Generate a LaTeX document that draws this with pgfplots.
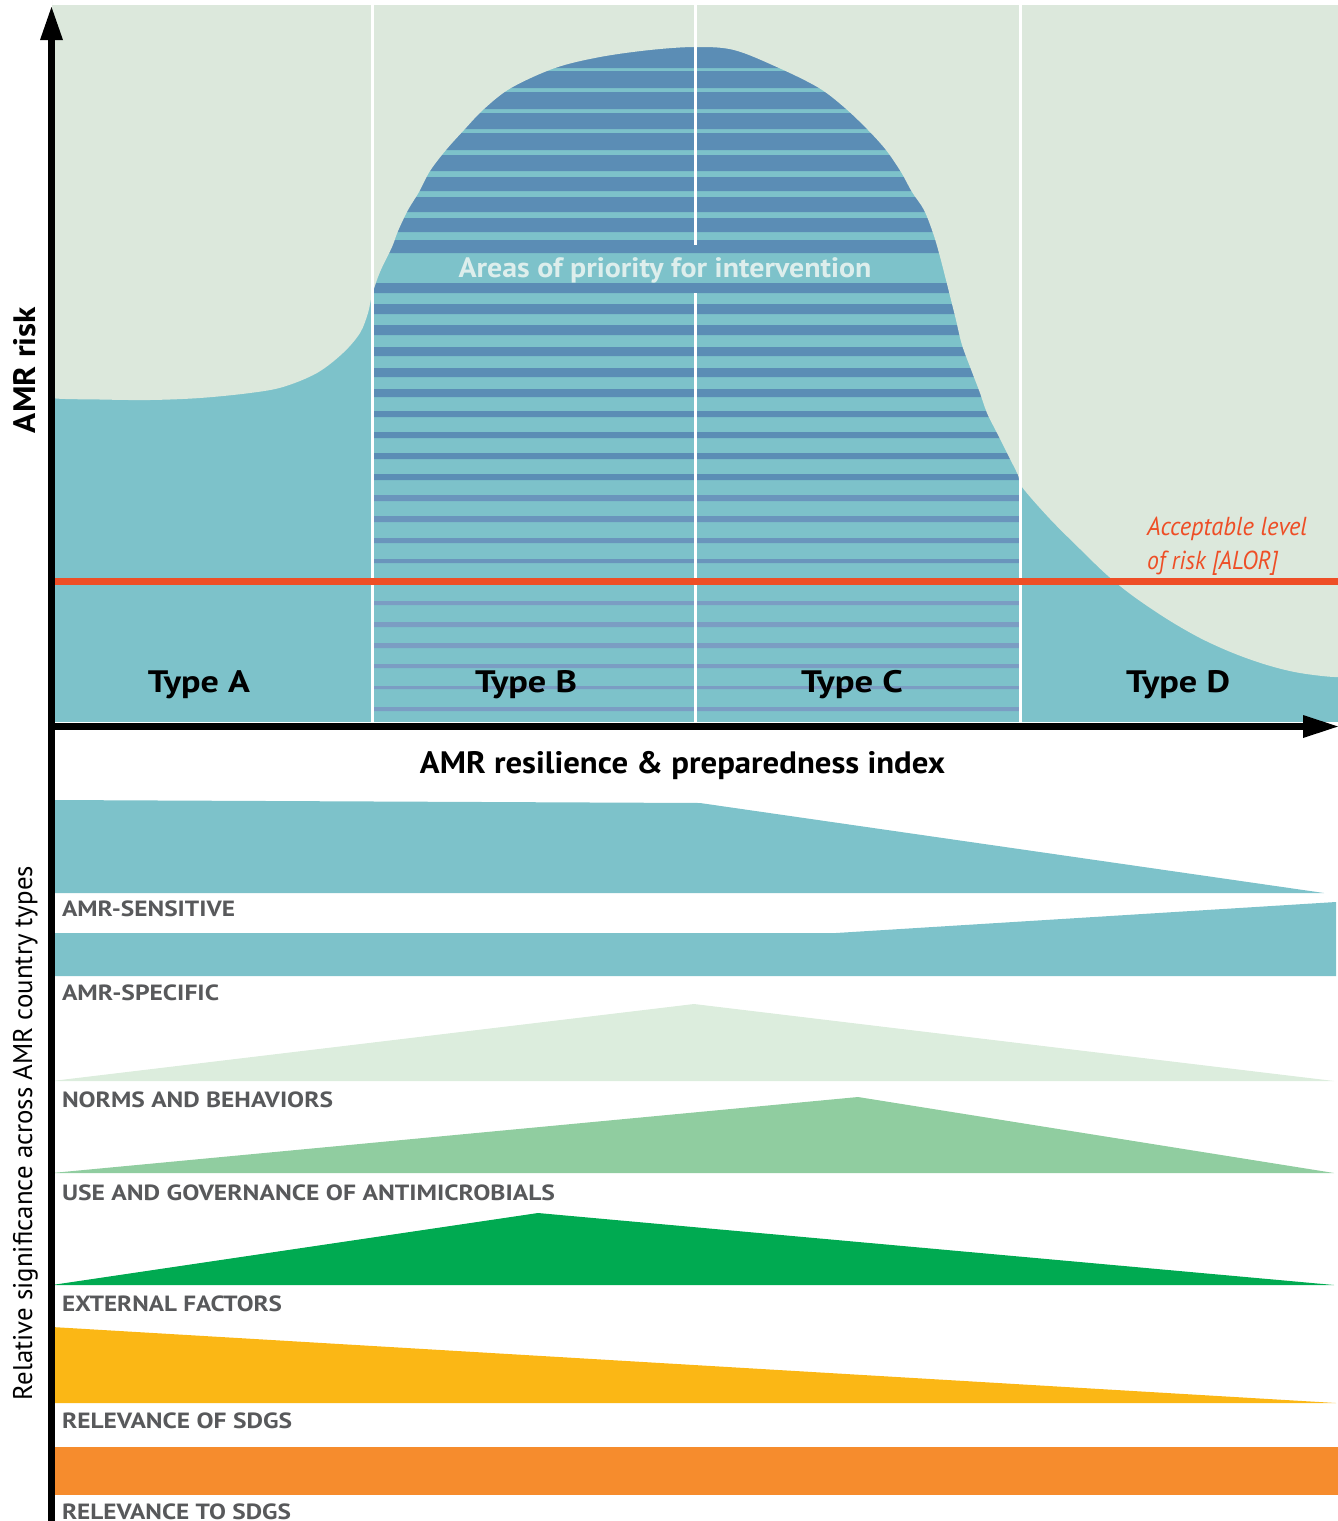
\documentclass[border=0pt]{standalone}
\usepackage{pgfplots}
\pgfplotsset{compat=1.18}
\usepackage{fontspec}
\setmainfont{PT Sans}
\usepackage{graphicx}

\definecolor{bgl}{HTML}{DCE8DC}
\definecolor{teal1}{HTML}{7DC2CA}
\definecolor{stripeA}{HTML}{5B8DB5}
\definecolor{stripeB}{HTML}{6A95BC}
\definecolor{stripeC}{HTML}{7B9DC3}
\definecolor{alor}{HTML}{EE4E26}
\definecolor{lgreen}{HTML}{DCEDDD}
\definecolor{mgreen}{HTML}{90CDA0}
\definecolor{dgreen}{HTML}{00AA51}
\definecolor{yel}{HTML}{FBB715}
\definecolor{ora}{HTML}{F68C2D}
\definecolor{lbl}{HTML}{58595B}
\definecolor{pale}{HTML}{DDEEEC}

% squeeze text to a given width, keep its height
\newcommand{\fitw}[2]{\resizebox{#1}{\height}{#2}}
\tikzset{lab/.style={inner sep=0pt, outer sep=0pt}}

\begin{document}
\begin{tikzpicture}
\begin{axis}[name=main, at={(0,0)}, anchor=south west,
  scale only axis, width=669pt, height=760.5pt,
  xmin=0, xmax=1338, ymin=0, ymax=1521, y dir=reverse,
  hide axis, clip=false, no markers]

% --- top panel: teal base
\addplot[fill=teal1, draw=none] coordinates {(52,5)(1338,5)(1338,722)(52,722)};

% stripes in type B / C
\addplot[fill=stripeA, draw=none, unbounded coords=jump] coordinates {
 (372,40)(1020,40)(1020,68)(372,68) (372,nan)
 (372,71)(1020,71)(1020,88)(372,88) (372,nan)
 (372,92)(1020,92)(1020,109)(372,109) (372,nan)
 (372,113)(1020,113)(1020,129)(372,129) (372,nan)
 (372,133)(1020,133)(1020,150)(372,150) (372,nan)
 (372,155)(1020,155)(1020,171)(372,171) (372,nan)
 (372,177)(1020,177)(1020,191)(372,191) (372,nan)
 (372,197)(1020,197)(1020,212)(372,212) (372,nan)
 (372,218)(1020,218)(1020,232)(372,232) (372,nan)
 (372,240)(1020,240)(1020,253)(372,253) (372,nan)
 (372,283)(1020,283)(1020,293)(372,293) (372,nan)
 (372,304)(1020,304)(1020,314)(372,314) (372,nan)
 (372,325)(1020,325)(1020,335)(372,335) (372,nan)
 (372,347)(1020,347)(1020,356)(372,356) (372,nan)
 (372,368)(1020,368)(1020,377)(372,377) (372,nan)
 (372,389)(1020,389)(1020,397)(372,397) (372,nan)
 (372,411)(1020,411)(1020,417)(372,417) (372,nan)
 (372,432)(1020,432)(1020,438)(372,438) (372,nan)
 (372,453)(1020,453)(1020,459)(372,459) (372,nan)
 (372,474)(1020,474)(1020,480)(372,480)
};
\addplot[fill=stripeB, draw=none, unbounded coords=jump] coordinates {
 (372,495)(1020,495)(1020,501)(372,501) (372,nan)
 (372,516)(1020,516)(1020,522)(372,522) (372,nan)
 (372,538)(1020,538)(1020,543)(372,543) (372,nan)
 (372,559)(1020,559)(1020,563)(372,563)
};
\addplot[fill=stripeC, draw=none, unbounded coords=jump] coordinates {
 (372,580)(1020,580)(1020,584)(372,584) (372,nan)
 (372,601)(1020,601)(1020,605)(372,605) (372,nan)
 (372,622)(1020,622)(1020,627)(372,627) (372,nan)
 (372,643)(1020,643)(1020,648)(372,648) (372,nan)
 (372,664)(1020,664)(1020,668)(372,668) (372,nan)
 (372,686)(1020,686)(1020,689)(372,689) (372,nan)
 (372,707)(1020,707)(1020,711)(372,711)
};

% area above the AMR risk curve
\addplot[fill=bgl, draw=none, smooth, tension=0.55] coordinates {
 (52,5)(52,8)(52,390)(52,398)(100,399.5)(150,400)(200,398)(250,393)(283,387)(317,373)
 (343,353)(360,333)(368,313)(372,295)(380,272)(392,247)(398,231)(408,210)
 (419,192)(430,171)(446,150)(464,130)(484,109)(511,88)(555,68)(600,57)
 (650,50)(695,47)(734,50)(779,68)(819,88)(845,108)(868,130)(886,150)
 (901,172)(912,192)(924,210)(933,233)(939,253)(946,280)(951,300)(956,320)
 (962,345)(972,372)(980,393)(987,413)(997,433)(1007,453)(1018,475)
 (1022,487)(1050,519)(1080,549)(1107,575)(1133,596)(1167,619)(1200,638)
 (1233,653)(1267,665)(1300,673)(1338,677)(1338,670)(1338,8)(1338,5)
};

% type dividers
\addplot[white, line width=1.5pt] coordinates {(372,5)(372,722)};
\addplot[white, line width=1.5pt] coordinates {(695,5)(695,245)};
\addplot[white, line width=1.5pt] coordinates {(695,293)(695,722)};
\addplot[white, line width=1.5pt] coordinates {(1020,5)(1020,722)};

% acceptable level of risk
\addplot[alor, line width=3.5pt] coordinates {(52,581.5)(1338,581.5)};

% --- bottom panel bands
\addplot[fill=teal1, draw=none] coordinates {(52,800)(700,803)(1324,893)(52,893)};
\addplot[fill=teal1, draw=none] coordinates {(52,933)(836,933)(1336,902)(1336,976)(52,976)};
\addplot[fill=lgreen, draw=none] coordinates {(52,1081)(694,1004)(1334,1081)};
\addplot[fill=mgreen, draw=none] coordinates {(52,1173)(858,1097)(1334,1173)};
\addplot[fill=dgreen, draw=none] coordinates {(52,1285)(538,1213)(1334,1285)};
\addplot[fill=yel, draw=none] coordinates {(52,1327)(1336,1403)(52,1403)};
\addplot[fill=ora, draw=none] coordinates {(52,1447)(1338,1447)(1338,1495)(52,1495)};

% --- axes with arrowheads
\addplot[black, line width=3.5pt] coordinates {(51.5,1521)(51.5,36)};
\addplot[fill=black, draw=none] coordinates {(40,40)(63,40)(51.5,7)};
\addplot[black, line width=3.5pt] coordinates {(48,726.5)(1306,726.5)};
\addplot[fill=black, draw=none] coordinates {(1303,715)(1303,738)(1338,726.5)};

% --- texts
\node[lab, anchor=base] at (axis cs:199,692) {\fitw{51pt}{\fontsize{15.5pt}{18pt}\selectfont\bfseries Type A}};
\node[lab, anchor=base] at (axis cs:526,692) {\fitw{51pt}{\fontsize{15.5pt}{18pt}\selectfont\bfseries Type B}};
\node[lab, anchor=base] at (axis cs:852,692) {\fitw{51pt}{\fontsize{15.5pt}{18pt}\selectfont\bfseries Type C}};
\node[lab, anchor=base] at (axis cs:1178,692) {\fitw{52pt}{\fontsize{15.5pt}{18pt}\selectfont\bfseries Type D}};

\node[lab, anchor=base] at (axis cs:682.5,773) {\fitw{262.5pt}{\fontsize{15.5pt}{18pt}\selectfont\bfseries AMR resilience \& preparedness index}};
\node[lab, anchor=base, rotate=90] at (axis cs:35,370) {\fitw{63pt}{\fontsize{15.5pt}{18pt}\selectfont\bfseries AMR risk}};
\node[lab, anchor=base west, text=pale] at (axis cs:458.5,277) {\fitw{206.5pt}{\fontsize{14pt}{16pt}\selectfont\bfseries Areas of priority for intervention}};
\node[lab, anchor=base west, text=alor] at (axis cs:1147,535) {\fitw{80pt}{\fontsize{13pt}{15pt}\selectfont\itshape Acceptable level}};
\node[lab, anchor=base west, text=alor] at (axis cs:1147,569) {\fitw{65.5pt}{\fontsize{13pt}{15pt}\selectfont\itshape of risk [ALOR]}};

\node[lab, anchor=base, rotate=90] at (axis cs:32,1133) {\fitw{267pt}{\fontsize{13.5pt}{16pt}\selectfont Relative significance across AMR country types}};

\node[lab, anchor=base west, text=lbl] at (axis cs:62,916) {\fitw{86.5pt}{\fontsize{11pt}{13pt}\selectfont\bfseries AMR-SENSITIVE}};
\node[lab, anchor=base west, text=lbl] at (axis cs:62,1000.7) {\fitw{78.5pt}{\fontsize{11pt}{13pt}\selectfont\bfseries AMR-SPECIFIC}};
\node[lab, anchor=base west, text=lbl] at (axis cs:62,1107) {\fitw{135.5pt}{\fontsize{11pt}{13pt}\selectfont\bfseries NORMS AND BEHAVIORS}};
\node[lab, anchor=base west, text=lbl] at (axis cs:62,1200) {\fitw{246.5pt}{\fontsize{11pt}{13pt}\selectfont\bfseries USE AND GOVERNANCE OF ANTIMICROBIALS}};
\node[lab, anchor=base west, text=lbl] at (axis cs:62,1311) {\fitw{110pt}{\fontsize{11pt}{13pt}\selectfont\bfseries EXTERNAL FACTORS}};
\node[lab, anchor=base west, text=lbl] at (axis cs:62,1428) {\fitw{115pt}{\fontsize{11pt}{13pt}\selectfont\bfseries RELEVANCE OF SDGS}};
\node[lab, anchor=base west, text=lbl] at (axis cs:62,1519) {\fitw{114.5pt}{\fontsize{11pt}{13pt}\selectfont\bfseries RELEVANCE TO SDGS}};
\end{axis}
\pgfresetboundingbox
\useasboundingbox (main.south west) rectangle (main.north east);
\end{tikzpicture}
\end{document}
